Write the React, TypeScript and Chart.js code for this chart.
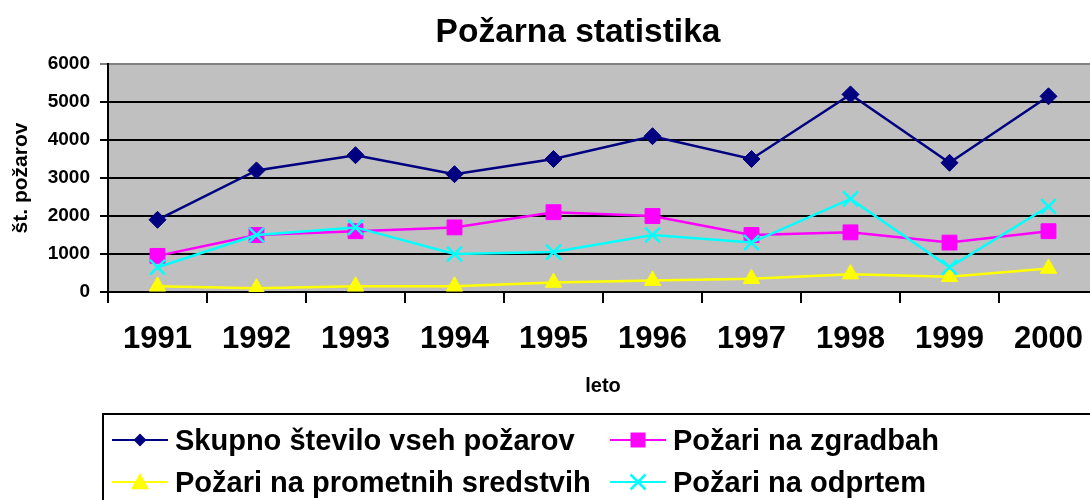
import React, { useEffect, useRef } from "react";
import { Chart, registerables } from "chart.js";

Chart.register(...registerables);

const years = ["1991", "1992", "1993", "1994", "1995", "1996", "1997", "1998", "1999", "2000"];
const skupno = [1900, 3200, 3600, 3100, 3500, 4100, 3500, 5200, 3400, 5150];
const zgradbe = [950, 1500, 1600, 1700, 2100, 2000, 1500, 1570, 1300, 1600];
const prometna = [150, 100, 150, 150, 250, 300, 350, 470, 400, 620];
const odprto = [650, 1500, 1700, 1000, 1050, 1500, 1300, 2450, 650, 2250];
const seriesLabels = [
  "Skupno število vseh požarov",
  "Požari na zgradbah",
  "Požari na prometnih sredstvih",
  "Požari na odprtem",
];
const titleText = "Požarna statistika";
const yTitle = "št. požarov";
const xTitle = "leto";

const FONT = '"Liberation Sans", Arial, sans-serif';

function drawMarker(ctx: CanvasRenderingContext2D, style: string, x: number, y: number, r: number, color: string) {
  ctx.save();
  ctx.fillStyle = color;
  ctx.strokeStyle = color;
  ctx.beginPath();
  if (style === "rectRot") {
    ctx.moveTo(x, y - r);
    ctx.lineTo(x + r, y);
    ctx.lineTo(x, y + r);
    ctx.lineTo(x - r, y);
    ctx.closePath();
    ctx.fill();
  } else if (style === "rect") {
    ctx.rect(x - r, y - r, 2 * r, 2 * r);
    ctx.fill();
  } else if (style === "triangle") {
    ctx.moveTo(x, y - r);
    ctx.lineTo(x + r, y + r * 0.8);
    ctx.lineTo(x - r, y + r * 0.8);
    ctx.closePath();
    ctx.fill();
  } else if (style === "crossRot") {
    ctx.lineWidth = 2.5;
    ctx.moveTo(x - r, y - r);
    ctx.lineTo(x + r, y + r);
    ctx.moveTo(x + r, y - r);
    ctx.lineTo(x - r, y + r);
    ctx.stroke();
  }
  ctx.restore();
}

const decorPlugin = {
  id: "decor",
  beforeDraw(chart: any) {
    const { ctx, chartArea } = chart;
    ctx.save();
    ctx.fillStyle = "#C0C0C0";
    ctx.fillRect(chartArea.left, chartArea.top, chartArea.right - chartArea.left, chartArea.bottom - chartArea.top);
    ctx.restore();
  },
  afterDraw(chart: any) {
    const { ctx } = chart;
    ctx.save();
    // title
    ctx.fillStyle = "#000";
    ctx.font = `bold 33.5px ${FONT}`;
    ctx.textAlign = "center";
    ctx.textBaseline = "alphabetic";
    ctx.fillText(titleText, chart.width / 2, 42);

    // legend box
    ctx.strokeStyle = "#000";
    ctx.lineWidth = 2;
    ctx.strokeRect(103, 414, 1150 - 103, 120);

    const cols = [112, 610];
    const rows = [440, 482];
    const markerSizes = [6.5, 7.5, 9, 7.5];
    chart.data.datasets.forEach((ds: any, i: number) => {
      const x = cols[i % 2];
      const y = rows[Math.floor(i / 2)];
      ctx.strokeStyle = ds.borderColor;
      ctx.lineWidth = 2;
      ctx.beginPath();
      ctx.moveTo(x, y);
      ctx.lineTo(x + 56, y);
      ctx.stroke();
      drawMarker(ctx, ds.pointStyle, x + 28, y, markerSizes[i], ds.borderColor);
      ctx.fillStyle = "#000";
      ctx.font = `bold 29px ${FONT}`;
      ctx.textAlign = "left";
      ctx.textBaseline = "alphabetic";
      ctx.fillText(ds.label, x + 63, y + 10);
    });
    ctx.restore();
  },
};

export default function App() {
  const ref = useRef<HTMLCanvasElement>(null);

  useEffect(() => {
    if (!ref.current) return;
    const chart = new Chart(ref.current, {
      type: "line",
      data: {
        labels: years,
        datasets: [
          {
            label: seriesLabels[0],
            data: skupno,
            borderColor: "#000080",
            backgroundColor: "#000080",
            borderWidth: 2.5,
            pointStyle: "rectRot",
            pointRadius: 8.5,
            pointBorderWidth: 1,
            order: 3,
          },
          {
            label: seriesLabels[1],
            data: zgradbe,
            borderColor: "#FF00FF",
            backgroundColor: "#FF00FF",
            borderWidth: 2.5,
            pointStyle: "rect",
            pointRadius: 10.5,
            pointBorderWidth: 1,
            order: 2,
          },
          {
            label: seriesLabels[2],
            data: prometna,
            borderColor: "#FFFF00",
            backgroundColor: "#FFFF00",
            borderWidth: 2.5,
            pointStyle: "triangle",
            pointRadius: 9.5,
            pointBorderWidth: 1,
            order: 1,
          },
          {
            label: seriesLabels[3],
            data: odprto,
            borderColor: "#00FFFF",
            backgroundColor: "#00FFFF",
            borderWidth: 2.5,
            pointStyle: "crossRot",
            pointRadius: 10.5,
            pointBorderWidth: 2.5,
            order: 0,
          },
        ],
      },
      options: {
        responsive: false,
        maintainAspectRatio: false,
        animation: false,
        layout: { padding: { top: 64, left: 0, right: 58, bottom: 88 } },
        plugins: {
          legend: { display: false },
          title: { display: false },
          tooltip: { enabled: false },
        },
        scales: {
          x: {
            offset: true,
            afterFit: (s: any) => {
              s.height = 120;
            },
            grid: {
              offset: true,
              drawOnChartArea: false,
              tickLength: 11,
              color: "#000",
              lineWidth: 2,
            },
            border: { color: "#000", width: 2 },
            ticks: {
              color: "#000",
              padding: 18,
              maxRotation: 0,
              autoSkip: false,
              font: { family: FONT, size: 31, weight: "bold" },
            },
            title: {
              display: true,
              text: xTitle,
              color: "#000",
              padding: { top: 0, bottom: 14 },
              font: { family: FONT, size: 20, weight: "bold" },
            },
          },
          y: {
            min: 0,
            max: 6000,
            afterFit: (s: any) => {
              s.width = 108;
            },
            ticks: {
              stepSize: 1000,
              color: "#000",
              padding: 10,
              callback: (v: any) => String(v),
              font: { family: FONT, size: 19, weight: "bold" },
            },
            grid: {
              color: (c: any) => (c.tick && c.tick.value === 6000 ? "#808080" : "#000"),
              lineWidth: 2,
              tickLength: 8,
            },
            border: { color: "#000", width: 2 },
            title: {
              display: true,
              text: yTitle,
              color: "#000",
              padding: { top: 9, bottom: 0 },
              font: { family: FONT, size: 21, weight: "bold" },
            },
          },
        },
      },
      plugins: [decorPlugin],
    });
    return () => chart.destroy();
  }, []);

  return (
    <div style={{ position: "absolute", left: 0, top: 0, width: 1090, height: 500, overflow: "hidden", background: "#fff" }}>
      <canvas ref={ref} width={1156} height={500} style={{ width: 1156, height: 500, display: "block" }} />
    </div>
  );
}
